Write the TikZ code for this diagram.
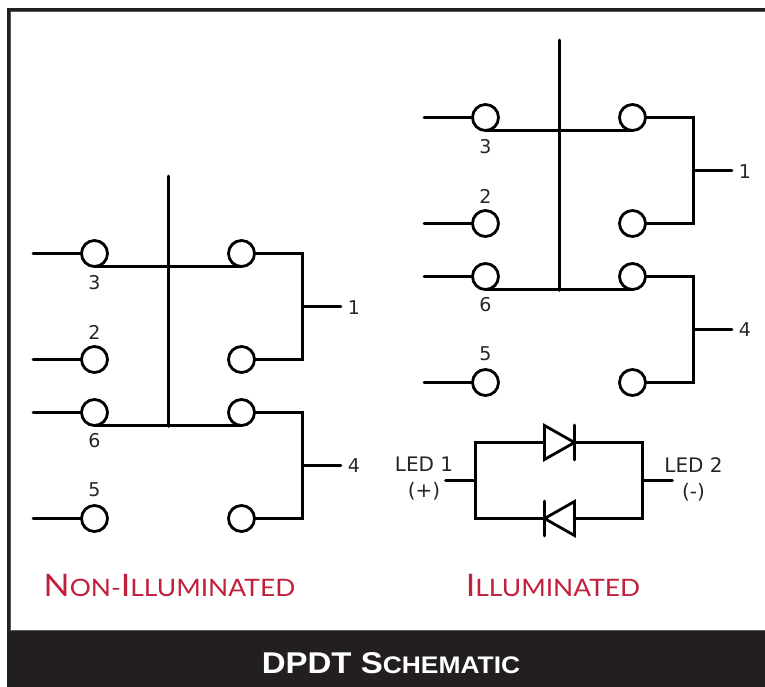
\documentclass[tikz,border=0pt]{standalone}
\usepackage{fontspec}
\setmainfont{DejaVu Sans}
\newfontfamily\redfont{Lato}[FakeStretch=1.1]
\newfontfamily\barfont{Liberation Sans Bold}[FakeStretch=1.1]
\definecolor{bandblack}{HTML}{231F20}
\definecolor{framegrey}{HTML}{58595B}
\definecolor{labelred}{HTML}{C1203C}
\tikzset{
  wire/.style={line width=2.8pt,black,line cap=round,line join=miter},
  contact/.style={circle,draw=black,line width=2.8pt,fill=white,minimum size=26pt,inner sep=0pt,outer sep=0pt},
  pin/.style={inner sep=0pt,font=\fontsize{19}{22}\selectfont,text=black!85},
  ledtext/.style={inner sep=0pt,align=center,font=\fontsize{20}{26}\selectfont,text=black!85},
  redtitle/.style={inner sep=0pt,anchor=base,text=labelred},
  bandtitle/.style={inner sep=0pt,anchor=base,text=white}
}
\newcommand{\dpdtgroup}[3]{%
  \begin{scope}[shift={(#2,#3)}]
    \coordinate (#1la) at (33,-253.5);
    \coordinate (#1lc) at (33,-359.5);
    \coordinate (#1le) at (33,-412.5);
    \coordinate (#1lg) at (33,-518.5);
    \coordinate (#1top) at (168.5,-176);
    \coordinate (#1bot) at (168.5,-426.5);
    \coordinate (#1ru) at (302.5,-253.5);
    \coordinate (#1rv) at (302.5,-359.5);
    \coordinate (#1rw) at (302.5,-412.5);
    \coordinate (#1rx) at (302.5,-518.5);
    \coordinate (#1j1) at (302.5,-306.5);
    \coordinate (#1j4) at (302.5,-465.5);
    \coordinate (#1s1) at (341,-306.5);
    \coordinate (#1s4) at (341,-465.5);
    \node[contact] (#1a) at (94.5,-253.5) {};
    \node[contact] (#1b) at (241.5,-253.5) {};
    \node[contact] (#1c) at (94.5,-359.5) {};
    \node[contact] (#1d) at (241.5,-359.5) {};
    \node[contact] (#1e) at (94.5,-412.5) {};
    \node[contact] (#1f) at (241.5,-412.5) {};
    \node[contact] (#1g) at (94.5,-518.5) {};
    \node[contact] (#1h) at (241.5,-518.5) {};
    \draw[wire] (#1la) -- (#1a.west);
    \draw[wire] (#1lc) -- (#1c.west);
    \draw[wire] (#1le) -- (#1e.west);
    \draw[wire] (#1lg) -- (#1g.west);
    \draw[wire] (#1a.south) -- (#1b.south);
    \draw[wire] (#1e.south) -- (#1f.south);
    \draw[wire] (#1top) -- (#1bot);
    \draw[wire] (#1b.east) -- (#1ru) -- (#1rv) -- (#1d.east);
    \draw[wire] (#1f.east) -- (#1rw) -- (#1rx) -- (#1h.east);
    \draw[wire] (#1j1) -- (#1s1);
    \draw[wire] (#1j4) -- (#1s4);
    \node[pin] (#1n3) at (94.5,-283) {3};
    \node[pin] (#1n2) at (94.5,-332) {2};
    \node[pin] (#1n6) at (94.5,-441) {6};
    \node[pin] (#1n5) at (94.5,-490) {5};
    \node[pin] (#1n1) at (354,-308) {1};
    \node[pin] (#1n4) at (354,-465.5) {4};
  \end{scope}}
\begin{document}
\begin{tikzpicture}[x=1pt,y=1pt]
  \useasboundingbox (0,0) rectangle (765,-687);
  \fill[white] (0,0) rectangle (765,-687);
  \fill[bandblack] (7,-631) rectangle (765,-687);
  \draw[bandblack,line width=3pt] (8.5,-631) -- (8.5,-10) -- (765,-10);
  \draw[framegrey,line width=1pt] (10.5,-630.5) -- (10.5,-11.5) -- (765,-11.5);
  \draw[framegrey,line width=1pt] (10.5,-630.5) -- (765,-630.5);
  \dpdtgroup{p}{0}{0}
  \dpdtgroup{q}{391}{136}
  % LED section
  \coordinate (tl) at (475.5,-442.5);
  \coordinate (tr) at (642.5,-442.5);
  \coordinate (bl) at (475.5,-518.5);
  \coordinate (br) at (642.5,-518.5);
  \coordinate (jl) at (475.5,-480.5);
  \coordinate (jr) at (642.5,-480.5);
  \coordinate (sl) at (445.5,-480.5);
  \coordinate (sr) at (672.5,-480.5);
  \coordinate (da) at (544.5,-442.5);
  \coordinate (dk) at (574.5,-442.5);
  \coordinate (ea) at (574.5,-518.5);
  \coordinate (ek) at (544.5,-518.5);
  \draw[wire,line cap=butt] (da) -- (tl) -- (bl) -- (ek);
  \draw[wire,line cap=butt] (dk) -- (tr) -- (br) -- (ea);
  \draw[wire] (sl) -- (jl);
  \draw[wire] (jr) -- (sr);
  \draw[wire,line cap=butt] (da) ++(0,17) -- ++(0,-34) -- (dk) -- cycle;
  \draw[wire] (dk) ++(0,17.5) -- ++(0,-35);
  \draw[wire,line cap=butt] (ea) ++(0,17) -- ++(0,-34) -- (ek) -- cycle;
  \draw[wire] (ek) ++(0,17.5) -- ++(0,-35);
  \node[ledtext] (led1) at (424,-479) {LED 1\\(+)};
  \node[ledtext] (led2) at (693.5,-479) {LED 2\\(-)};
  % Titles
  \node[redtitle] (t1) at (169.5,-596) {\redfont\fontsize{31}{31}\selectfont N\fontsize{24}{24}\selectfont ON-\fontsize{31}{31}\selectfont I\fontsize{24}{24}\selectfont LLUMINATED};
  \node[redtitle] (t2) at (553,-596) {\redfont\fontsize{31}{31}\selectfont I\fontsize{24}{24}\selectfont LLUMINATED};
  \node[bandtitle] (t3) at (391,-673) {\barfont\fontsize{30}{30}\selectfont DPDT S\fontsize{24}{24}\selectfont CHEMATIC};
\end{tikzpicture}
\end{document}
